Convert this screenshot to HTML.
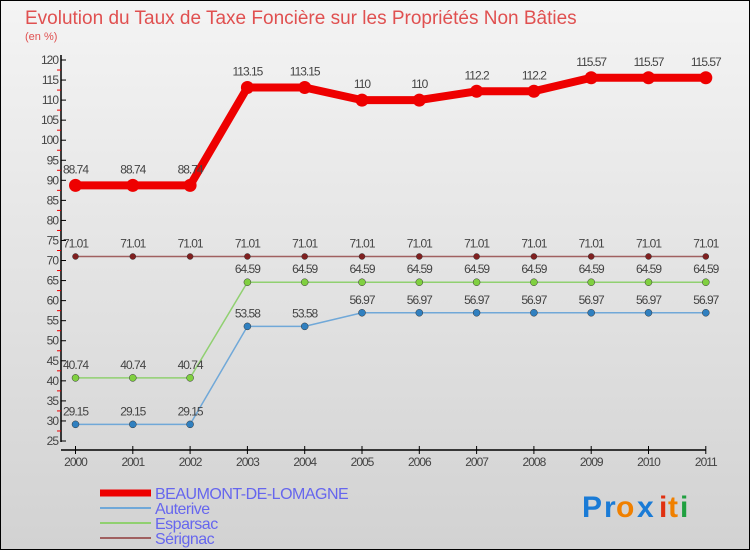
<!DOCTYPE html>
<html><head><meta charset="utf-8"><style>
body{margin:0}
svg text{font-family:"Liberation Sans",sans-serif}
</style></head><body>
<svg width="750" height="550" xmlns="http://www.w3.org/2000/svg">
<defs><linearGradient id="bg" x1="0" y1="0" x2="0" y2="1"><stop offset="0" stop-color="#f4f4f4"/><stop offset="1" stop-color="#d2d2d2"/></linearGradient></defs>
<rect x="0.5" y="0.5" width="749" height="549" fill="url(#bg)" stroke="#000"/>
<text x="25" y="24" font-size="19" fill="#e05050">Evolution du Taux de Taxe Foncière sur les Propriétés Non Bâties</text>
<text x="25" y="40" font-size="11" fill="#e05050">(en %)</text>
<g id="axes"></g><g id="series"></g><g id="legend"></g>
<g font-size="30" font-weight="bold">
<text x="582" y="517" fill="#1a7bd6">P</text><text x="604" y="517" fill="#1a7bd6">r</text><text x="616" y="517" fill="#f08000">o</text><text x="637" y="517" fill="#1a7bd6">x</text><text x="659" y="517" fill="#e03010">i</text><text x="668" y="517" fill="#f08000">t</text><text x="680" y="517" fill="#20a040">i</text>
</g>
</svg>
<script>
const years=["2000","2001","2002","2003","2004","2005","2006","2007","2008","2009","2010","2011"];
const beaumont=[88.74,88.74,88.74,113.15,113.15,110,110,112.2,112.2,115.57,115.57,115.57];
const auterive=[29.15,29.15,29.15,53.58,53.58,56.97,56.97,56.97,56.97,56.97,56.97,56.97];
const esparsac=[40.74,40.74,40.74,64.59,64.59,64.59,64.59,64.59,64.59,64.59,64.59,64.59];
const serignac=[71.01,71.01,71.01,71.01,71.01,71.01,71.01,71.01,71.01,71.01,71.01,71.01];
const yTicks=[25,30,35,40,45,50,55,60,65,70,75,80,85,90,95,100,105,110,115,120];
const NS="http://www.w3.org/2000/svg";
function X(i){return 75.5+i*57.3;}
function Y(v){return 441-(v-25)*(381/95);}
function mk(p,t,a,txt){const e=document.createElementNS(NS,t);for(const k in a)e.setAttribute(k,a[k]);if(txt!==undefined)e.textContent=txt;p.appendChild(e);return e;}
const ax=document.getElementById('axes');
let e=mk(ax,'line',{x1:61,y1:55,x2:61,y2:442,stroke:'#000','stroke-width':1.5});

e=mk(ax,'line',{x1:61,y1:450,x2:706,y2:450,stroke:'#000','stroke-width':1.5});

yTicks.forEach(v=>{const y=Y(v);
 mk(ax,'line',{x1:61,y1:y,x2:66,y2:y,stroke:'#000'});
 if(v<120) mk(ax,'line',{x1:57,y1:Y(v+2.5),x2:61,y2:Y(v+2.5),stroke:'#e00'});
 e=mk(ax,'text',{x:58,y:y+4,'font-size':12,fill:'#444','text-anchor':'end','letter-spacing':'-1'},v);
 });
years.forEach((yr,i)=>{mk(ax,'line',{x1:X(i),y1:446,x2:X(i),y2:454,stroke:'#000'});
 e=mk(ax,'text',{x:X(i),y:466,'font-size':12,fill:'#444','text-anchor':'middle','letter-spacing':'-1'},yr);
 });
const sg=document.getElementById('series');
function series(name,data,color,w,r,dot){
 const g=mk(sg,'g',{});
 e=mk(g,'polyline',{points:data.map((v,i)=>X(i)+','+Y(v)).join(' '),fill:'none',stroke:color,'stroke-width':w,'stroke-linejoin':'round'});
 
 data.forEach((v,i)=>{e=mk(g,'circle',{cx:X(i),cy:Y(v),r:r,fill:dot,stroke:'#333','stroke-width':r>5?0:0.5});
  
  e=mk(g,'text',{x:X(i),y:Y(v)-(r>5?12:9),'font-size':12,fill:'#444','text-anchor':'middle','letter-spacing':'-1'},String(v));
  });
}
series('serignac',serignac,'#a06060',1.5,3,'#802020');
series('esparsac',esparsac,'#90d070',1.5,3.5,'#80d040');
series('auterive',auterive,'#70a8d8',1.5,3.5,'#3080c0');
series('beaumont',beaumont,'#ee0000',8,6.5,'#ee0000');
const lg=document.getElementById('legend');
const leg=[["BEAUMONT-DE-LOMAGNE","#ee0000",7],["Auterive","#70a8d8",2],["Esparsac","#90d070",2],["Sérignac","#a06060",2]];
leg.forEach((l,i)=>{const y=493+i*15;
 const g=mk(lg,'g',{});
 mk(g,'line',{x1:100,y1:y,x2:151,y2:y,stroke:l[1],'stroke-width':l[2]});
 mk(g,'text',{x:155,y:y+6,'font-size':16,fill:'#6666ee','letter-spacing':'-0.5'},l[0]);});
</script>
</body></html>
